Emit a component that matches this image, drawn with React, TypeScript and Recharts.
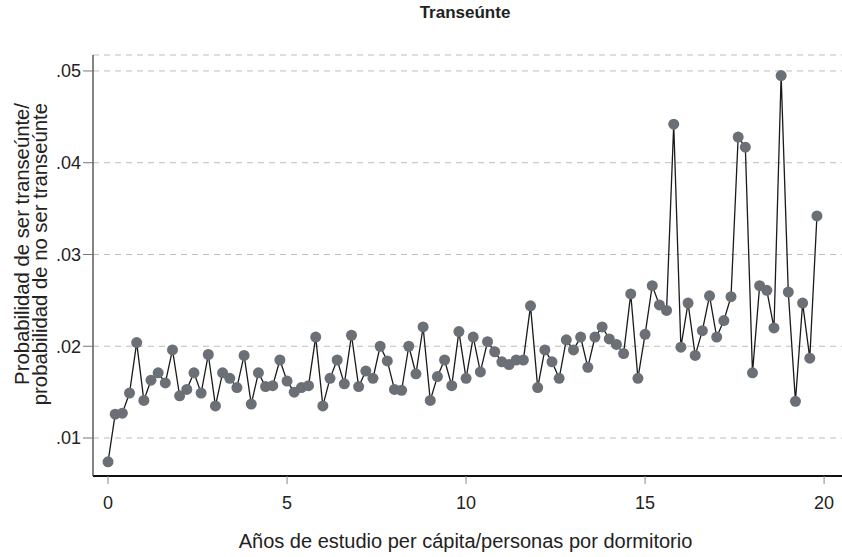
import { LineChart, Line, XAxis, YAxis, CartesianGrid } from "recharts";

// años de estudio per cápita / personas por dormitorio
const years = [
  0, 0.2, 0.4, 0.6, 0.8, 1, 1.2, 1.4, 1.6, 1.8,
  2, 2.2, 2.4, 2.6, 2.8, 3, 3.2, 3.4, 3.6, 3.8,
  4, 4.2, 4.4, 4.6, 4.8, 5, 5.2, 5.4, 5.6, 5.8,
  6, 6.2, 6.4, 6.6, 6.8, 7, 7.2, 7.4, 7.6, 7.8,
  8, 8.2, 8.4, 8.6, 8.8, 9, 9.2, 9.4, 9.6, 9.8,
  10, 10.2, 10.4, 10.6, 10.8, 11, 11.2, 11.4, 11.6, 11.8,
  12, 12.2, 12.4, 12.6, 12.8, 13, 13.2, 13.4, 13.6, 13.8,
  14, 14.2, 14.4, 14.6, 14.8, 15, 15.2, 15.4, 15.6, 15.8,
  16, 16.2, 16.4, 16.6, 16.8, 17, 17.2, 17.4, 17.6, 17.8,
  18, 18.2, 18.4, 18.6, 18.8, 19, 19.2, 19.4, 19.6, 19.8,
];

// odds de ser transeúnte
const odds = [
  0.0074, 0.0126, 0.0127, 0.0149, 0.0204, 0.0141, 0.0163, 0.0171, 0.016, 0.0196,
  0.0146, 0.0153, 0.0171, 0.0149, 0.0191, 0.0135, 0.0171, 0.0165, 0.0155, 0.019,
  0.0137, 0.0171, 0.0156, 0.0157, 0.0185, 0.0162, 0.015, 0.0155, 0.0157, 0.021,
  0.0135, 0.0165, 0.0185, 0.0159, 0.0212, 0.0156, 0.0173, 0.0165, 0.02, 0.0184,
  0.0153, 0.0152, 0.02, 0.017, 0.0221, 0.0141, 0.0167, 0.0185, 0.0157, 0.0216,
  0.0165, 0.021, 0.0172, 0.0205, 0.0194, 0.0183, 0.018, 0.0185, 0.0185, 0.0244,
  0.0155, 0.0196, 0.0183, 0.0165, 0.0207, 0.0196, 0.021, 0.0177, 0.021, 0.0221,
  0.0208, 0.0202, 0.0192, 0.0257, 0.0165, 0.0213, 0.0266, 0.0245, 0.0239, 0.0442,
  0.0199, 0.0247, 0.019, 0.0217, 0.0255, 0.021, 0.0228, 0.0254, 0.0428, 0.0417,
  0.0171, 0.0266, 0.0261, 0.022, 0.0495, 0.0259, 0.014, 0.0247, 0.0187, 0.0342,
];

const xTicks = [0, 5, 10, 15, 20];
const yTicks = [0.01, 0.02, 0.03, 0.04, 0.05];

const data = years.map((x, i) => ({ x, y: odds[i] }));

const font = "'Liberation Sans', Arial, Helvetica, sans-serif";

// both lines end at the same height (top), like the reference
function YTitle(props: any) {
  const vb = props.viewBox;
  const top = vb.y + 48;
  return (
    <g fontFamily={font} fontSize={20.3} fill="#222" textAnchor="end">
      <text x={29} y={top} transform={`rotate(-90 29 ${top})`}>
        Probabilidad de ser transeúnte/
      </text>
      <text x={47} y={top} transform={`rotate(-90 47 ${top})`}>
        probabilidad de no ser transeúnte
      </text>
    </g>
  );
}

function XTitle(props: any) {
  const vb = props.viewBox;
  return (
    <text
      x={vb.x + vb.width / 2 - 2}
      y={vb.y + 72}
      textAnchor="middle"
      fontFamily={font}
      fontSize={20}
      fill="#222"
    >
      Años de estudio per cápita/personas por dormitorio
    </text>
  );
}

export default function App() {
  return (
    <div style={{ position: "absolute", left: 0, top: 0, width: 842, height: 557, background: "#fff" }}>
      <div
        style={{
          position: "absolute", left: 365, top: 4, width: 200, textAlign: "center",
          fontFamily: font, fontSize: 17, lineHeight: "17px", fontWeight: 700, color: "#222",
        }}
      >
        Transeúnte
      </div>
      <LineChart width={842} height={557} data={data} margin={{ top: 55, right: 0, bottom: 0, left: 0 }}>
        <CartesianGrid vertical={false} stroke="#bdbdbd" strokeDasharray="6 5" />
        <XAxis
          dataKey="x" type="number" domain={[-0.42, 20.5]} ticks={xTicks} allowDataOverflow
          height={81} tickSize={8} tickMargin={12}
          axisLine={{ stroke: "#111", strokeWidth: 2 }}
          tickLine={{ stroke: "#888" }}
          tick={{ fontSize: 18, fill: "#222", fontFamily: font }}
          label={{ content: XTitle }}
        />
        <YAxis
          type="number" domain={[0.00586, 0.05174]} ticks={yTicks} allowDataOverflow
          width={93} tickSize={10} tickMargin={2}
          tickFormatter={(v: number) => v.toFixed(2).replace(/^0/, "")}
          axisLine={{ stroke: "#333", strokeWidth: 1.2 }}
          tickLine={{ stroke: "#777" }}
          tick={{ fontSize: 18, fill: "#222", fontFamily: font }}
          label={{ content: YTitle }}
        />
        <Line
          dataKey="y" type="linear" stroke="#1a1a1a" strokeWidth={1.3}
          dot={{ r: 5.5, fill: "#6a7076", stroke: "none", strokeWidth: 0 }}
          activeDot={false} isAnimationActive={false}
        />
      </LineChart>
    </div>
  );
}
